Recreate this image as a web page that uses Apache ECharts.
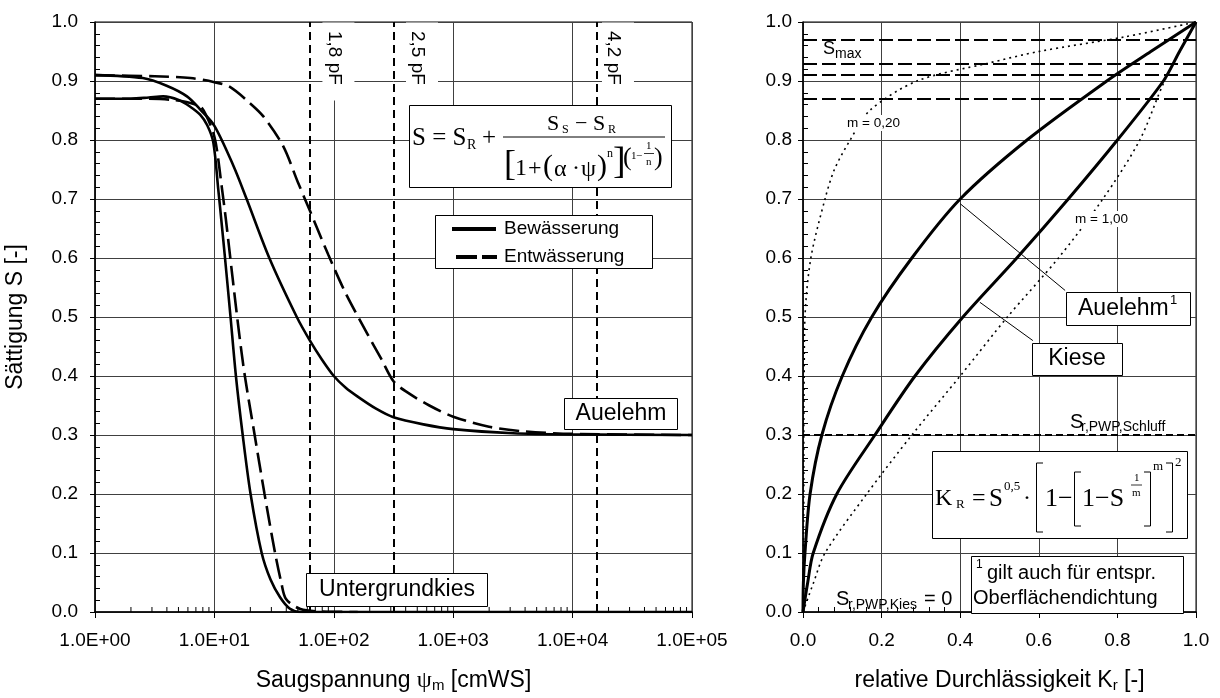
<!DOCTYPE html>
<html><head><meta charset="utf-8">
<script src="https://cdn.jsdelivr.net/npm/echarts@6/dist/echarts.min.js"></script>
<style>html,body{margin:0;padding:0;background:#fff}#c{width:1220px;height:698px}</style>
</head><body><div id="c"></div>
<script>
// ===== Left chart: Saugspannung psi [cmWS] (log) vs Sättigung S [-] =====
const psiAuelehmBew = [1, 2.51, 3.98, 5.89, 7.59, 10, 14.45, 18.62, 28.84, 48.98, 63.10, 79.43, 100, 125.9, 158.5, 223.9, 316.2, 562.3, 1000, 3162, 10000, 100000];
const sAuelehmBew   = [0.910, 0.905, 0.892, 0.874, 0.852, 0.824, 0.756, 0.700, 0.600, 0.500, 0.460, 0.428, 0.400, 0.380, 0.365, 0.345, 0.330, 0.318, 0.310, 0.303, 0.301, 0.300];
const psiAuelehmEnt = [1, 3.16, 6.31, 10, 13.49, 19.95, 25.70, 37.58, 50.12, 63.10, 90.16, 125.9, 190.5, 251.2, 316.2, 407.4, 631.0, 1000, 1995, 3981, 10000, 100000];
const sAuelehmEnt   = [0.910, 0.908, 0.905, 0.898, 0.890, 0.862, 0.840, 0.790, 0.728, 0.680, 0.605, 0.540, 0.472, 0.428, 0.391, 0.373, 0.350, 0.331, 0.314, 0.306, 0.302, 0.300];
const psiKiesBew = [1, 2, 2.82, 3.72, 5.01, 6.31, 7.59, 8.71, 9.79, 10.79, 11.51, 12.27, 13.65, 15.14, 17.26, 20.09, 24.89, 29.51, 35.48, 42.66, 52.48, 100000];
const sKiesBew   = [0.870, 0.870, 0.872, 0.874, 0.868, 0.856, 0.843, 0.825, 0.796, 0.715, 0.658, 0.600, 0.500, 0.400, 0.300, 0.200, 0.100, 0.055, 0.025, 0.006, 0.000, 0.000];
const psiKiesEnt = [1, 2, 4.47, 7.59, 8.61, 9.77, 10.47, 11.48, 12.45, 14.13, 16.03, 17.99, 21.73, 26.30, 32.21, 36.31, 39.81, 52.48, 75.86, 158.5];
const sKiesEnt   = [0.870, 0.870, 0.868, 0.857, 0.840, 0.813, 0.785, 0.723, 0.667, 0.570, 0.476, 0.400, 0.300, 0.200, 0.100, 0.050, 0.022, 0.005, 0.001, 0.000];
const pFValues = [1.8, 2.5, 4.2];
const pFLabels = ['1,8 pF', '2,5 pF', '4,2 pF'];
const xTickLabelsLeft = ['1.0E+00', '1.0E+01', '1.0E+02', '1.0E+03', '1.0E+04', '1.0E+05'];
const minorTickFactors = [2, 3, 4, 5, 6, 7, 8, 9];
const decades = [1, 10, 100, 1000, 10000];

// ===== Right chart: relative Durchlässigkeit Kr [-] vs Sättigung S [-] =====
const sAuelehmR  = [0, 0.05, 0.1, 0.2, 0.3, 0.4, 0.5, 0.6, 0.7, 0.8, 0.9, 0.95, 1.0];
const krAuelehmR = [0, 0.001, 0.005, 0.018, 0.048, 0.100, 0.175, 0.277, 0.400, 0.570, 0.773, 0.885, 1.0];
const sKieseR  = [0, 0.05, 0.1, 0.2, 0.3, 0.4, 0.5, 0.6, 0.7, 0.8, 0.9, 0.95, 1.0];
const krKieseR = [0, 0.012, 0.026, 0.086, 0.183, 0.285, 0.407, 0.544, 0.675, 0.800, 0.917, 0.958, 1.0];
const sM020  = [0, 0.1, 0.2, 0.3, 0.4, 0.5, 0.6, 0.7, 0.75, 0.8, 0.85, 0.9, 0.93, 0.95, 0.975, 1.0];
const krM020 = [0, 0.001, 0.002, 0.002, 0.003, 0.005, 0.020, 0.056, 0.080, 0.120, 0.170, 0.290, 0.470, 0.600, 0.820, 1.0];
const sM100  = [0, 0.05, 0.1, 0.2, 0.3, 0.4, 0.5, 0.6, 0.7, 0.8, 0.9, 1.0];
const krM100 = [0, 0.027, 0.056, 0.162, 0.277, 0.400, 0.520, 0.650, 0.763, 0.857, 0.920, 1.0];
const sMaxLevels = [0.975, 0.93, 0.91, 0.87];
const sPwpSchluff = 0.30;
const leaderAuelehm = [[0.40, 0.692], [0.667, 0.545]];
const leaderKiese = [[0.45, 0.525], [0.585, 0.46]];
const xTickLabelsRight = ['0.0', '0.2', '0.4', '0.6', '0.8', '1.0'];

const SANS = 'Liberation Sans', SERIF = 'Liberation Serif';
const BLACK = '#000', GRIDC = '#404040';
const zip = (xs, ys) => xs.map((x, i) => [x, ys[i]]);
const zipKr = (kr, s) => kr.map((k, i) => [k, s[i]]);
const minorTickPsi = [];
decades.forEach(d => minorTickFactors.forEach(f => minorTickPsi.push(f * d)));

const chart = echarts.init(document.getElementById('c'), null, { renderer: 'canvas' });

const axisLineStyle = { show: true, onZero: false, lineStyle: { color: BLACK, width: 1.5 } };
const labelStyle = { fontFamily: SANS, fontSize: 19, color: BLACK };
const nameStyle = {
  fontFamily: SANS, fontSize: 23, color: BLACK,
  rich: {
    g: { fontFamily: SERIF, fontSize: 24, color: BLACK },
    sub: { fontFamily: SANS, fontSize: 15, color: BLACK, verticalAlign: 'bottom', padding: [10, 0, 0, 0] }
  }
};

function lineSeries(name, data, xi, dash, width, extra) {
  return Object.assign({
    name, type: 'line', xAxisIndex: xi, yAxisIndex: xi, data,
    symbol: 'none', showSymbol: false, smooth: 0.3, silent: true, z: 3,
    lineStyle: { color: BLACK, width: width, type: dash || 'solid', cap: 'butt' }
  }, extra || {});
}

const option = {
  animation: false,
  backgroundColor: '#fff',
  grid: [
    { left: 95, top: 22, width: 597, height: 594, show: true, borderColor: BLACK, borderWidth: 1, backgroundColor: '#fff' },
    { left: 803, top: 22, width: 393, height: 594, show: true, borderColor: BLACK, borderWidth: 1, backgroundColor: '#fff' }
  ],
  xAxis: [
    {
      type: 'log', logBase: 10, gridIndex: 0, min: 1, max: 100000,
      axisLine: axisLineStyle,
      axisTick: { show: true, length: 6, lineStyle: { color: BLACK, width: 1 } },
      splitLine: { show: true, lineStyle: { color: GRIDC, width: 1 } },
      axisLabel: Object.assign({ margin: 19, formatter: v => xTickLabelsLeft[Math.round(Math.log10(v))] }, labelStyle),
      name: 'Saugspannung {g|ψ}{sub|m} [cmWS]', nameLocation: 'middle', nameGap: 56, nameTextStyle: nameStyle
    },
    {
      type: 'value', gridIndex: 1, min: 0, max: 1, interval: 0.2,
      axisLine: axisLineStyle,
      axisTick: { show: true, length: 6, lineStyle: { color: BLACK, width: 1 } },
      minorTick: { show: true, splitNumber: 5, length: -5, lineStyle: { color: BLACK, width: 1 } },
      splitLine: { show: true, lineStyle: { color: GRIDC, width: 1 } },
      axisLabel: Object.assign({ margin: 19, formatter: v => xTickLabelsRight[Math.round(v * 5)] }, labelStyle),
      name: 'relative Durchlässigkeit K{sub|r} [-]', nameLocation: 'middle', nameGap: 56, nameTextStyle: nameStyle
    }
  ],
  yAxis: [
    {
      type: 'value', gridIndex: 0, min: 0, max: 1, interval: 0.1,
      axisLine: axisLineStyle,
      axisTick: { show: true, length: 5, lineStyle: { color: BLACK, width: 1 } },
      minorTick: { show: true, splitNumber: 5, length: -5, lineStyle: { color: BLACK, width: 1 } },
      splitLine: { show: true, lineStyle: { color: GRIDC, width: 1 } },
      axisLabel: Object.assign({ margin: 17, formatter: v => v.toFixed(1) }, labelStyle),
      name: 'Sättigung S [-]', nameLocation: 'middle', nameGap: 68, nameTextStyle: nameStyle
    },
    {
      type: 'value', gridIndex: 1, min: 0, max: 1, interval: 0.1,
      axisLine: axisLineStyle,
      axisTick: { show: true, length: 5, lineStyle: { color: BLACK, width: 1 } },
      minorTick: { show: true, splitNumber: 5, length: -5, lineStyle: { color: BLACK, width: 1 } },
      splitLine: { show: true, lineStyle: { color: GRIDC, width: 1 } },
      axisLabel: Object.assign({ margin: 11, formatter: v => v.toFixed(1) }, labelStyle)
    }
  ],
  series: [
    lineSeries('Bewässerung', zip(psiAuelehmBew, sAuelehmBew), 0, 'solid', 2.6, {
      markLine: {
        silent: true, symbol: 'none', label: { show: false },
        lineStyle: { color: BLACK, width: 2, type: [8, 5] },
        data: pFValues.map(p => ({ xAxis: Math.pow(10, p) }))
      }
    }),
    lineSeries('Entwässerung', zip(psiAuelehmEnt, sAuelehmEnt), 0, [20, 7], 2.6),
    lineSeries('Bewässerung', zip(psiKiesBew, sKiesBew), 0, 'solid', 2.6),
    lineSeries('Entwässerung', zip(psiKiesEnt, sKiesEnt), 0, [20, 7], 2.6),
    {
      type: 'custom', xAxisIndex: 0, yAxisIndex: 0, silent: true, clip: false, z: 4,
      data: minorTickPsi.map(v => [v, 0]),
      encode: { x: 0, y: 1 },
      renderItem: (params, api) => {
        const p = api.coord([api.value(0), api.value(1)]);
        return { type: 'line', shape: { x1: p[0], y1: p[1], x2: p[0], y2: p[1] - 5 }, style: { stroke: BLACK, lineWidth: 1 } };
      }
    },
    lineSeries('Auelehm', zipKr(krAuelehmR, sAuelehmR), 1, 'solid', 3, {
      markLine: {
        silent: true, symbol: 'none', label: { show: false },
        lineStyle: { color: BLACK, width: 2, type: [14, 5] },
        data: sMaxLevels.map(s => ({ yAxis: s })).concat([{ yAxis: sPwpSchluff, lineStyle: { type: [7, 4], width: 2, color: BLACK } }])
      }
    }),
    lineSeries('Kiese', zipKr(krKieseR, sKieseR), 1, 'solid', 3),
    lineSeries('m = 0,20', zipKr(krM020, sM020), 1, [2, 4], 1.6),
    lineSeries('m = 1,00', zipKr(krM100, sM100), 1, [2, 4], 1.6),
    lineSeries('leaderAuelehm', leaderAuelehm, 1, 'solid', 1, { smooth: false, z: 5 }),
    lineSeries('leaderKiese', leaderKiese, 1, 'solid', 1, { smooth: false, z: 5 })
  ]
};
chart.setOption(option);

// ---------- annotations (text boxes, formulas, legend) ----------
function txt(text, x, y, size, o) {
  o = o || {};
  const st = { text, fontFamily: o.font || SANS, fontSize: size, fill: BLACK, align: o.align || 'left', verticalAlign: 'middle' };
  if (o.bg) { st.backgroundColor = '#fff'; st.padding = [1, 2, 1, 2]; }
  return { type: 'text', x, y, z: 101, rotation: o.rotation || 0, silent: true, style: st };
}
function box(x, y, w, h, noStroke) {
  return { type: 'rect', z: 100, silent: true, shape: { x: x + 0.5, y: y + 0.5, width: w, height: h },
    style: { fill: '#fff', stroke: noStroke ? null : BLACK, lineWidth: 1 } };
}
function seg(x1, y1, x2, y2, w, dash) {
  return { type: 'line', z: 101, silent: true, shape: { x1, y1, x2, y2 }, style: { stroke: BLACK, lineWidth: w, lineDash: dash || null } };
}
function poly(points) {
  return { type: 'polyline', z: 101, silent: true, shape: { points }, style: { stroke: BLACK, lineWidth: 1, fill: null } };
}

const g = [];
// pF labels (rotated, white background)
const pFOffset = [24, 24, 17];
pFValues.forEach((p, i) => {
  const x = chart.convertToPixel({ xAxisIndex: 0 }, Math.pow(10, p)) + pFOffset[i];
  g.push(box(x - 12, 22, 32, 78, true));
  g.push(txt(pFLabels[i], x, 31, 19, { rotation: -Math.PI / 2 }));
});

// formula box 1 (van Genuchten)
g.push(box(409, 105, 262, 82));
g.push(txt('S = S', 412, 138, 25, { font: SERIF }));
g.push(txt('R', 467, 145, 14, { font: SERIF }));
g.push(txt('+', 482, 138, 25, { font: SERIF }));
g.push(txt('S', 547, 124, 22, { font: SERIF }));
g.push(txt('S', 562, 130, 12, { font: SERIF }));
g.push(txt('−', 575, 124, 22, { font: SERIF }));
g.push(txt('S', 593, 124, 22, { font: SERIF }));
g.push(txt('R', 608, 130, 12, { font: SERIF }));
g.push(seg(503, 137, 665, 137, 1));
g.push(txt('[', 504, 166, 36, { font: SERIF }));
g.push(txt('1', 515, 169, 24, { font: SERIF }));
g.push(txt('+', 528, 169, 24, { font: SERIF }));
g.push(txt('(', 543, 167, 30, { font: SERIF }));
g.push(txt('α', 554, 170, 24, { font: SERIF }));
g.push(txt('·', 572, 169, 24, { font: SERIF }));
g.push(txt('ψ', 581, 170, 24, { font: SERIF }));
g.push(txt(')', 597, 167, 30, { font: SERIF }));
g.push(txt('n', 607, 154, 12, { font: SERIF }));
g.push(txt(']', 613, 163, 38, { font: SERIF }));
g.push(txt('(', 623, 158, 26, { font: SERIF }));
g.push(txt('1', 631, 156, 11, { font: SERIF }));
g.push(txt('−', 636, 156, 11, { font: SERIF }));
g.push(txt('1', 646, 146, 11, { font: SERIF }));
g.push(seg(644, 153.5, 654, 153.5, 0.8));
g.push(txt('n', 646, 162, 11, { font: SERIF }));
g.push(txt(')', 654, 158, 26, { font: SERIF }));

// legend box
g.push(box(435, 215, 217, 53));
g.push(seg(452, 229, 496, 229, 4));
g.push(seg(456, 257, 497, 257, 4, [21, 5]));
g.push(txt('Bewässerung', 504, 229, 19));
g.push(txt('Entwässerung', 504, 257, 19));

// left text boxes
g.push(box(564, 398, 113, 31));
g.push(txt('Auelehm', 621, 414, 23, { align: 'center' }));
g.push(box(306, 573, 181, 33));
g.push(txt('Untergrundkies', 397, 590, 23, { align: 'center' }));

// right chart labels
g.push(txt('S', 823, 49, 18));
g.push(txt('max', 835, 54, 14));
g.push(txt('m = 0,20', 845, 123, 13.5, { bg: true }));
g.push(txt('m = 1,00', 1073, 219, 13.5, { bg: true }));
g.push(box(1066, 292, 124, 33));
g.push(txt('Auelehm', 1078, 309, 23));
g.push(txt('1', 1170, 300, 13));
g.push(box(1032, 343, 90, 32));
g.push(txt('Kiese', 1077, 359, 23, { align: 'center' }));
g.push(txt('S', 1070, 422, 20));
g.push(txt('r,PWP,Schluff', 1081, 427, 14));
g.push(txt('S', 836, 599, 20));
g.push(txt('r,PWP,Kies', 848, 605, 14));
g.push(txt('= 0', 924, 599, 20));

// formula box 2 (Mualem / van Genuchten)
g.push(box(932, 451, 255, 87));
g.push(txt('K', 935, 499, 24, { font: SERIF }));
g.push(txt('R', 956, 505, 13, { font: SERIF }));
g.push(txt('=', 972, 499, 24, { font: SERIF }));
g.push(txt('S', 989, 499, 25, { font: SERIF }));
g.push(txt('0,5', 1004, 487, 13, { font: SERIF }));
g.push(txt('·', 1023, 499, 24, { font: SERIF }));
g.push(poly([[1043, 463], [1036.5, 463], [1036.5, 532], [1043, 532]]));
g.push(txt('1−', 1045, 499, 26, { font: SERIF }));
g.push(poly([[1081, 472], [1074.5, 472], [1074.5, 526], [1081, 526]]));
g.push(txt('1−S', 1082, 499, 26, { font: SERIF }));
g.push(txt('1', 1134, 478, 11, { font: SERIF }));
g.push(seg(1131, 485, 1142, 485, 0.8));
g.push(txt('m', 1132, 493, 11, { font: SERIF }));
g.push(poly([[1144, 472], [1150.5, 472], [1150.5, 526], [1144, 526]]));
g.push(txt('m', 1153, 467, 13, { font: SERIF }));
g.push(poly([[1166, 463], [1172.5, 463], [1172.5, 532], [1166, 532]]));
g.push(txt('2', 1175, 463, 13, { font: SERIF }));

// footnote box
g.push(box(971, 556, 212, 57));
g.push(txt('1', 976, 565, 12));
g.push(txt('gilt auch für entspr.', 987, 573, 20));
g.push(txt('Oberflächendichtung', 973, 598, 20));

chart.setOption({ graphic: g });
</script></body></html>
